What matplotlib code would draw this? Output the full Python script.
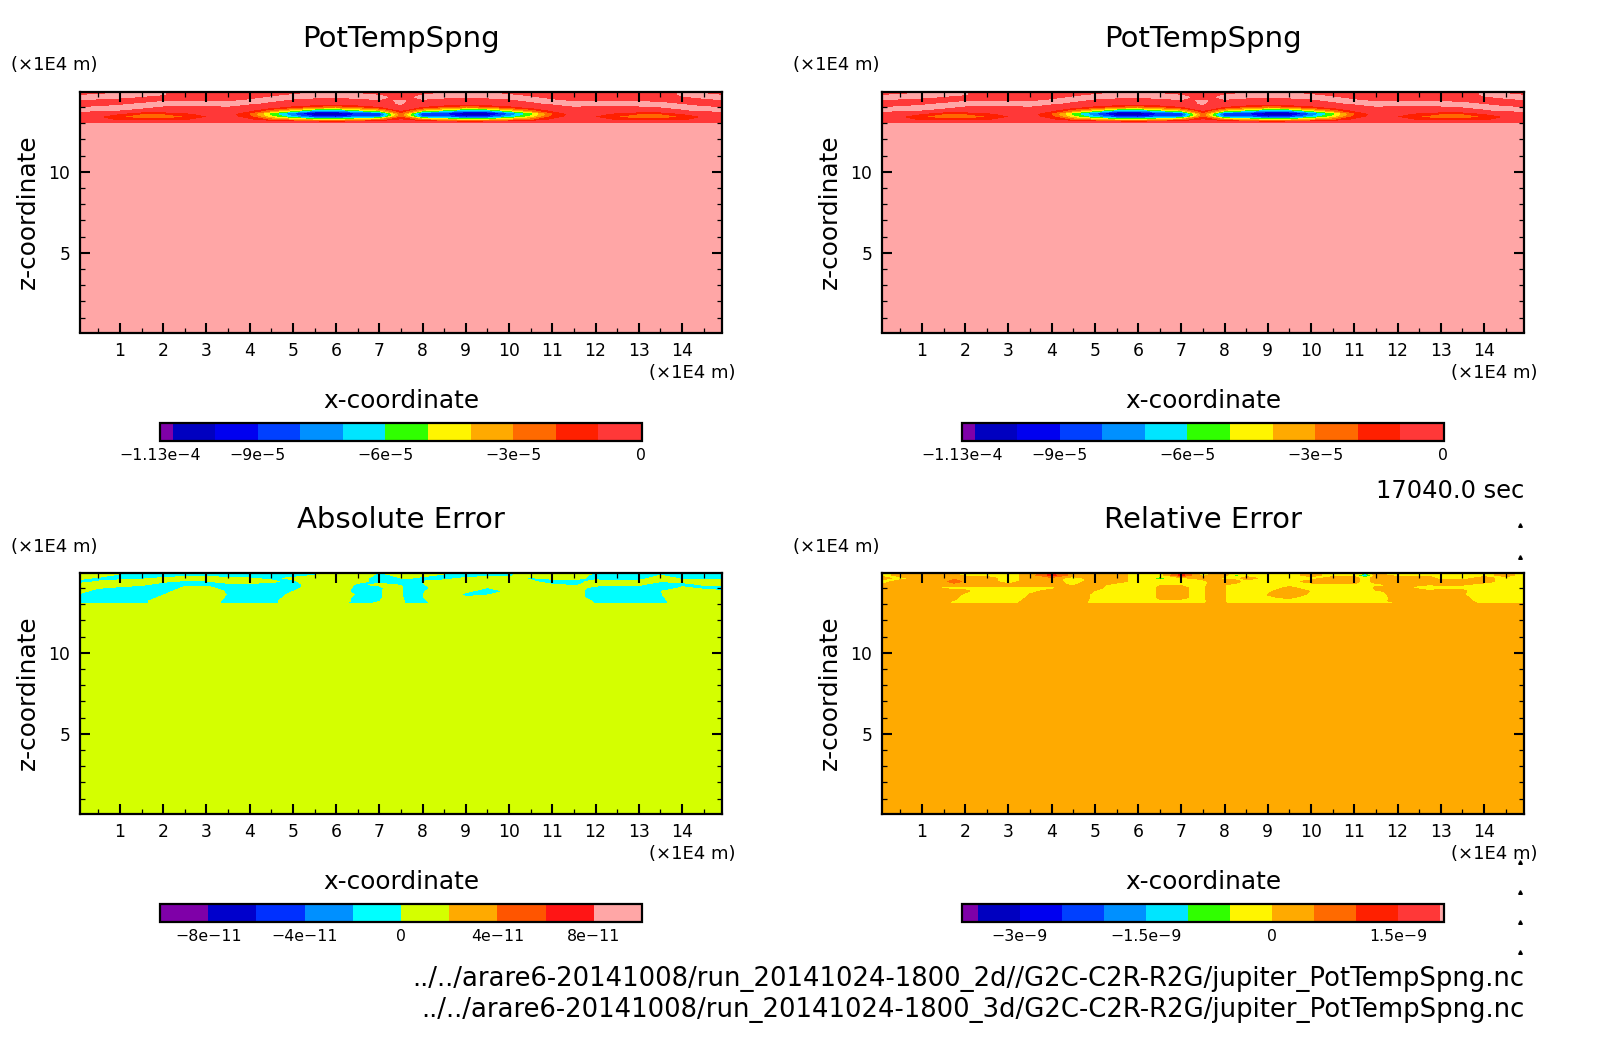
import numpy as np
import matplotlib
matplotlib.use("Agg")
import matplotlib.pyplot as plt
from matplotlib.lines import Line2D

W, H = 1604, 1054
plt.rcParams['font.family'] = ['DejaVu Sans']

# ---- grids ----
x_pot = [0.075, 0.5, 1, 1.5, 2, 2.5, 3, 3.5, 4, 4.5, 5, 5.5, 6, 6.5, 7, 7.5,
         8, 8.5, 9, 9.5, 10, 10.5, 11, 11.5, 12, 12.5, 13, 13.5, 14, 14.5, 14.925]
x_abs = [0.075, 0.5, 1, 1.5, 2, 2.5, 3, 3.5, 4, 4.5, 5, 5.5, 6, 6.5, 7, 7.25, 7.5, 7.75,
         8, 8.25, 8.5, 9, 9.5, 10, 10.5, 11, 11.5, 12, 12.5, 13, 13.5, 14, 14.5, 14.925]
x_rel = [0.075, 0.5, 1, 1.5, 1.75, 2, 2.5, 3, 3.5, 4, 4.5, 5, 5.5, 6, 6.5, 7, 7.5, 7.75,
         8, 8.25, 8.5, 9, 9.5, 10, 10.5, 11, 11.25, 11.5, 12, 12.5, 12.75, 13, 13.5, 14, 14.5, 14.925]
# rows from the top of the domain downward
z_rows = [14.925, 14.8, 14.6, 14.4, 14.2, 14.0, 13.8, 13.6, 13.4, 13.2, 13.05, 12.95, 0.075]

# ---- PotTempSpng, units 1e-5 ----
P = 0.01
pot_rows = [
    [-.026,-.017,-.009,.003,.003,-.07,-.07,-.08,-.066,-.04,-.017,-.009,-.006,-.011,-.026,-.068,-.02,-.009,-.006,-.009,-.017,-.04,-.066,-.08,-.07,-.07,-.07,-.08,.009,-.011,-.026],
    [-.011,-.003,.006,.017,.006,-.06,-.06,-.07,-.051,-.026,-.003,.006,.009,.003,-.011,-.054,-.006,.006,.009,.006,-.003,-.026,-.051,-.07,-.06,-.06,-.06,-.07,.017,.003,-.011],
    [.017,.014,.006,-.006,-.023,-.031,-.034,-.04,-.023,.003,.014,.006,.003,.009,.017,-.026,.017,.006,.003,.006,.014,.003,-.023,-.04,-.034,-.034,-.037,-.043,-.011,.009,.017],
    [-.006,-.014,-.023,-.026,-.009,-.003,-.006,-.011,.006,.009,-.014,-.023,-.026,-.02,-.006,.003,-.011,-.023,-.026,-.023,-.014,.009,.006,-.011,-.006,-.006,-.009,-.017,-.034,-.02,-.006],
    [-.034,-.026,-.014,.003,.02,.014,.017,.017,.006,-.02,-.1,-.3,-.3,-.2,-.034,.009,-.1,-.2,-.3,-.3,-.1,-.02,.006,.017,.017,.017,.02,.011,-.006,-.026,-.034],
    [-.006,.003,.014,.009,-.009,-.014,-.011,-.006,-.1,-.7,-1.5,-2.6,-3.0,-2.3,-1.2,-.05,-1.2,-2.3,-3.0,-2.6,-1.5,-.7,-.1,-.006,-.011,-.014,-.009,-.001,.017,.003,-.006],
    [.02,.011,-.001,-.017,-.034,-.04,-.037,-.031,-.8,-2.6,-4.5,-6.5,-7.0,-5.3,-4.0,-.9,-4.0,-5.3,-7.0,-6.5,-4.5,-2.6,-.8,-.031,-.037,-.037,-.034,-.026,-.009,.011,.02],
    [-.03,-.1,-1.0,-1.9,-1.9,-1.3,-.6,-.4,-2.2,-5.7,-8.3,-11.1,-11.1,-9.2,-8.9,-2.6,-8.9,-9.2,-11.1,-11.1,-8.3,-5.7,-2.2,-.4,-.6,-1.3,-1.9,-1.9,-1.0,-.1,-.03],
    [-.7,-1.0,-2.0,-2.9,-2.9,-2.1,-1.1,-.5,-1.8,-4.8,-7.0,-9.0,-9.5,-8.0,-8.0,-2.2,-8.0,-8.0,-9.5,-9.0,-7.0,-4.8,-1.8,-.5,-1.1,-2.1,-2.9,-2.9,-2.0,-1.0,-.7],
    [-.4,-.7,-1.2,-1.6,-1.6,-1.2,-.5,-.3,-.9,-2.3,-3.3,-4.2,-4.5,-3.6,-2.8,-.9,-2.8,-3.6,-4.5,-4.2,-3.3,-2.3,-.9,-.3,-.5,-1.2,-1.6,-1.6,-1.2,-.7,-.4],
    [-.01,-.02,-.02,-.03,-.03,-.03,-.02,-.02,-.1,-.2,-.3,-.4,-.5,-.4,-.3,-.1,-.3,-.4,-.5,-.4,-.3,-.2,-.1,-.02,-.02,-.03,-.03,-.03,-.02,-.02,-.01],
    [P]*31,
    [P]*31,
]

# ---- Absolute Error, units 1e-11, one list per x column (top to bottom) ----
abs_cols = [
    [1.9,1.3,.3,-.5,.4,1.4,.6,-.3,-1.3,-.9,-1],
    [1.3,.7,-.3,.05,.9,.1,-.9,-1.8,-1.9,-.9,-1],
    [.3,-.3,-.5,.5,.6,-.4,-1.4,-1.9,-1.9,-.9,-1],
    [-.1,-.7,-.3,.7,.2,-.8,-1.8,-1.9,-1.9,-.9,-1],
    [-.1,-.6,.2,.2,-.7,-1.7,-1.1,-.2,.8,1.8,1.9],
    [-.1,-.5,.5,-.2,-.6,.4,1.4,1.9,1.9,1.9,1.9],
    [-.1,-.5,.5,-.1,-.4,.6,1.6,1.9,1.9,1.9,1.9],
    [-.1,-.7,.3,.5,-.4,-1,-.4,-.2,-.5,-1,-1],
    [-.1,-.7,.05,.5,-.4,-1.4,-1.9,-1.9,-1.9,-.9,-1],
    [-.1,-.7,-.3,.3,-.6,-1.6,-1.9,-1.9,-1.9,-.9,-1],
    [-.1,-.7,.3,-.5,-1.4,-1.1,-.1,.8,1.8,1.9,1.9],
    [-.1,-.1,.9,1.9,1.9,1.9,1.9,1.9,1.9,1.9,1.9],
    [1.9,1.9,1.9,1.9,1.9,1.9,1.9,1.9,1.9,1.9,.8],
    [1.9,1.9,1.5,.5,-.4,-.8,-1.2,-.4,-1,-.9,-1],
    [-.1,-.7,-1.5,-.5,.4,-.6,-.8,-.8,-.7,-.2,.5],
    [.6,-.05,-1,-.8,.1,1.1,1.9,1.9,1.9,1.9,1.9],
    [1.6,1,-.05,-1,-.1,.4,.4,.4,.4,.4,.4],
    [1.6,1,-.05,-1,-1.6,-1.9,-1.9,-1.9,-1.9,-.9,-1],
    [1.1,.5,-.5,.05,-.4,-1,-.5,-.1,-.3,-.7,-1],
    [.7,.1,-.7,.3,1.2,.5,1.5,1.9,1.9,1,.5],
    [.3,-.3,-.5,.5,1.4,1.9,1.9,1.9,1.9,1.9,1.9],
    [-.1,-.6,.2,1.2,1.9,1.4,.4,-.5,.3,1.3,1.9],
    [-.1,-.5,.5,1.5,.9,-.1,-1.1,-.2,.8,1.8,1.9],
    [-.1,-.5,.5,1.5,1.9,1.0,.4,1.4,1.9,1.9,1.9],
    [1.4,.8,-.2,.2,1.1,1.9,1.9,1.9,1.9,1.9,1.9],
    [1.9,1.3,.3,-.7,.1,1.1,1.9,1.9,1.9,1.9,1.9],
    [1.9,1.5,.5,-.5,-.2,.8,1.4,1.9,1.9,1.9,1.9],
    [-.1,-.7,-.5,.5,.4,-.6,-1.6,-1.9,-1.9,-.5,-.1],
    [-.1,-.7,-.8,.2,.3,-.7,-1.7,-1.9,-1.9,-.9,-1],
    [-.1,-.7,-.7,.3,.2,-.8,-1.8,-1.9,-1.9,-.9,-1],
    [-.1,-.1,.9,.05,-.9,-1.9,-.1,-.2,-.5,-.9,-1],
    [-.1,-.7,-.3,.3,-.6,.4,1.4,1.9,1.9,1.9,1.9],
    [-.1,-.7,-.3,.7,.1,-.4,.6,1.5,1.9,1.9,1.9],
    [.1,-.5,-.5,.5,.4,-.6,.2,1.1,1.9,1.9,1.9],
]
abs_below = 1.9

# ---- Relative Error, units 1e-10 ----
O, Y = 2.5, -2.5
rel_rows = [
    [Y,O,O,O,O,Y,Y,Y,O,O,O,O,O,Y,Y,Y,Y,O,O,Y,Y,Y,Y,O,Y,Y,Y,O,Y,Y,Y,Y,Y,Y,O,Y],
    [Y,O,O,O,O,Y,Y,Y,O,12,O,O,O,Y,Y,12,Y,O,O,-8,Y,Y,Y,O,Y,Y,-22,O,Y,Y,Y,Y,Y,Y,O,Y],
    [O,Y,O,O,O,O,O,Y,O,O,Y,O,O,Y,-7,Y,O,O,Y,Y,O,Y,Y,Y,O,O,Y,O,O,O,O,Y,Y,O,Y,Y],
    [Y,O,O,O,9,O,O,Y,O,O,Y,O,O,Y,Y,Y,Y,O,O,O,Y,Y,Y,O,O,O,Y,O,O,O,O,O,O,O,Y,Y],
    [.5,2.5,2.5,.5,1,1,1,1,1,1,-.5,3,-3,-3,-.2,-.2,-1,2,.3,-2,-3,-3,-1.5,-3,-1,-1,-1,-1,-.2,.2,.2,.2,.2,-3,-3,-3],
    [3,2.5,2,-.5,-1,-1,-1.5,-1.5,-1.5,-1,2,1.5,-3,-3,.6,.5,-1,3,.3,-3,-3,-2,1,-2,-3,-3,-3,1,1,-.8,-7,-.8,-.8,-3,-1,-3],
    [3,-.5,-.3,1.5,1.5,.8,-3,-3,-1,1.5,3,-.3,-3,-3,.6,.5,-1,3,.3,-3,-3,-1,3,-.2,-3,-3,-3,-.5,1,1.5,1.5,1.5,.8,-3,-.1,-3],
    [3,2.5,2.5,3,2,-1.2,-3,-3,.2,3,3,-1,-3,-3,.6,.5,-1,3,.3,-3,-3,.1,3,-1,-3,-3,-3,-1,1,3,3,3,.3,-3,-3,-3],
    [3,3,3,3,1.7,-3,-3,-3,.8,3,3,-1,-3,-3,.5,.5,-1,3,.3,-3,-3,-.5,.5,-2,-3,-3,-3,-1.5,1,3,3,3,1.5,-3,-3,-3],
    [3,3,3,2,-.7,-2.2,-2.2,-2.2,1.4,3,3,-1.5,-3,-3,-.7,-.7,-1,2.2,.3,-3,-3,-2,-2,-3,-3,-3,-3,-1,.8,3,3,3,2.5,-3,-3,-3],
    [3,3,3,.8,-.8,-1.5,-1.5,-1.5,2,3,3,-1.5,-1.5,-1.5,-1.5,-1.5,-1,3,.3,-1.5,-1.5,-1.5,-1.5,-1.5,-1.5,-1.5,-1.5,-1.5,-.1,.5,.5,.5,3,-1.5,-1.5,-1.5],
    [O]*36,
    [O]*36,
]

# ---- colour levels ----
levels_pot = [-1.13e-4, -1.1e-4, -1e-4, -9e-5, -8e-5, -7e-5, -6e-5, -5e-5, -4e-5, -3e-5, -2e-5, -1e-5, 0, 3e-7]
levels_abs = [-1e-10, -8e-11, -6e-11, -4e-11, -2e-11, 0, 2e-11, 4e-11, 6e-11, 8e-11, 1e-10]
levels_rel = [-3.69e-9, -3.5e-9, -3e-9, -2.5e-9, -2e-9, -1.5e-9, -1e-9, -5e-10, 0, 5e-10, 1e-9, 1.5e-9, 2e-9, 2.05e-9]
colors_13 = ['#7f00a8', '#0000c0', '#0000f0', '#0040ff', '#0090ff', '#00e5ff', '#30ff00',
             '#fff500', '#ffaa00', '#ff6a00', '#ff2000', '#ff3838', '#ffa6a6']
colors_10 = ['#7f00a8', '#0000cc', '#0030ff', '#0090ff', '#00ffff', '#d4ff00',
             '#ffaa00', '#ff5500', '#ff1515', '#ffa6a6']
ticks_pot = [-1.13e-4, -9e-5, -6e-5, -3e-5, 0]
ticklabels_pot = ['\u22121.13e\u22124', '\u22129e\u22125', '\u22126e\u22125', '\u22123e\u22125', '0']
ticks_abs = [-8e-11, -4e-11, 0, 4e-11, 8e-11]
ticklabels_abs = ['\u22128e\u221211', '\u22124e\u221211', '0', '4e\u221211', '8e\u221211']
ticks_rel = [-3e-9, -1.5e-9, 0, 1.5e-9]
ticklabels_rel = ['\u22123e\u22129', '\u22121.5e\u22129', '0', '1.5e\u22129']

major_x = list(range(1, 15))
major_z = [5, 10]
titles = ['PotTempSpng', 'PotTempSpng', 'Absolute Error', 'Relative Error']
time_label = '17040.0 sec'
file_lines = ['../../arare6-20141008/run_20141024-1800_2d//G2C-C2R-R2G/jupiter_PotTempSpng.nc',
              '../../arare6-20141008/run_20141024-1800_3d/G2C-C2R-R2G/jupiter_PotTempSpng.nc']
unit = '(\u00d71E4 m)'

fig = plt.figure(figsize=(W / 100, H / 100), dpi=100)


def ftext(px, py, s, **kw):
    kw.setdefault('ha', 'center')
    kw.setdefault('va', 'center')
    return fig.text(px / W, 1 - py / H, s, **kw)


def axes_px(l, t, r, b):
    return fig.add_axes([l / W, 1 - b / H, (r - l) / W, (b - t) / H])


pot = np.array(pot_rows) * 1e-5
abs_err = np.vstack([np.array(abs_cols).T, np.full((2, len(x_abs)), abs_below)]) * 1e-11
rel_err = np.array(rel_rows) * 1e-10

panels = [
    (0, 0, x_pot, pot, levels_pot, colors_13, ticks_pot, ticklabels_pot, 11),
    (802, 0, x_pot, pot, levels_pot, colors_13, ticks_pot, ticklabels_pot, 793),
    (0, 481, x_abs, abs_err, levels_abs, colors_10, ticks_abs, ticklabels_abs, 11),
    (802, 481, x_rel, rel_err, levels_rel, colors_13, ticks_rel, ticklabels_rel, 793),
]

for title, (dx, dy, xs, field, lev, cols, cbt, cbl, ux) in zip(titles, panels):
    ax = axes_px(80 + dx, 92 + dy, 722 + dx, 332.5 + dy)
    cs = ax.contourf(xs, z_rows, field, levels=lev, colors=cols)
    ax.set_xlim(0.075, 14.925)
    ax.set_ylim(0.075, 14.925)
    ax.set_xticks(major_x)
    ax.set_yticks(major_z)
    ax.set_xticks(np.arange(0.5, 14.6, 1), minor=True)
    ax.set_yticks([v for v in range(1, 15) if v % 5], minor=True)
    ax.tick_params(which='major', direction='in', top=True, right=True, length=7.2, width=1.5,
                   labelsize=12.3)
    ax.tick_params(which='minor', direction='in', top=True, right=True, length=3.6, width=0.9)
    ax.tick_params(axis='x', which='major', pad=6.5)
    ax.tick_params(axis='y', which='major', pad=7)
    for sp in ax.spines.values():
        sp.set_linewidth(1.6)

    ftext(401 + dx, 39 + dy, title, fontsize=21)
    ftext(ux, 65.5 + dy, unit, ha='left', fontsize=13)
    ftext(735.5 + dx, 373 + dy, unit, ha='right', fontsize=13)
    ftext(401 + dx, 401 + dy, 'x-coordinate', fontsize=17.8)
    ftext(28 + dx, 212 + dy, 'z-coordinate', fontsize=17.8, rotation=90)

    cax = axes_px(160 + dx, 423 + dy, 642 + dx, 440.5 + dy)
    cb = fig.colorbar(cs, cax=cax, orientation='horizontal', spacing='proportional',
                      ticks=cbt, drawedges=False)
    cb.set_ticklabels(cbl)
    cb.ax.tick_params(length=0, labelsize=11.3, pad=5.5)
    cb.ax.minorticks_off()
    cb.outline.set_linewidth(1.6)

ftext(1524, 491, time_label, ha='right', fontsize=17.4)
ftext(1524, 979, file_lines[0], ha='right', fontsize=18.65)
ftext(1524, 1010, file_lines[1], ha='right', fontsize=18.65)

for py in [525, 556.7, 861.5, 891.5, 922, 952]:
    fig.add_artist(Line2D([1520 / W], [1 - py / H], transform=fig.transFigure, marker='^',
                          markersize=2.6, color='black', linestyle='none'))

fig.savefig('out.png', dpi=100)
